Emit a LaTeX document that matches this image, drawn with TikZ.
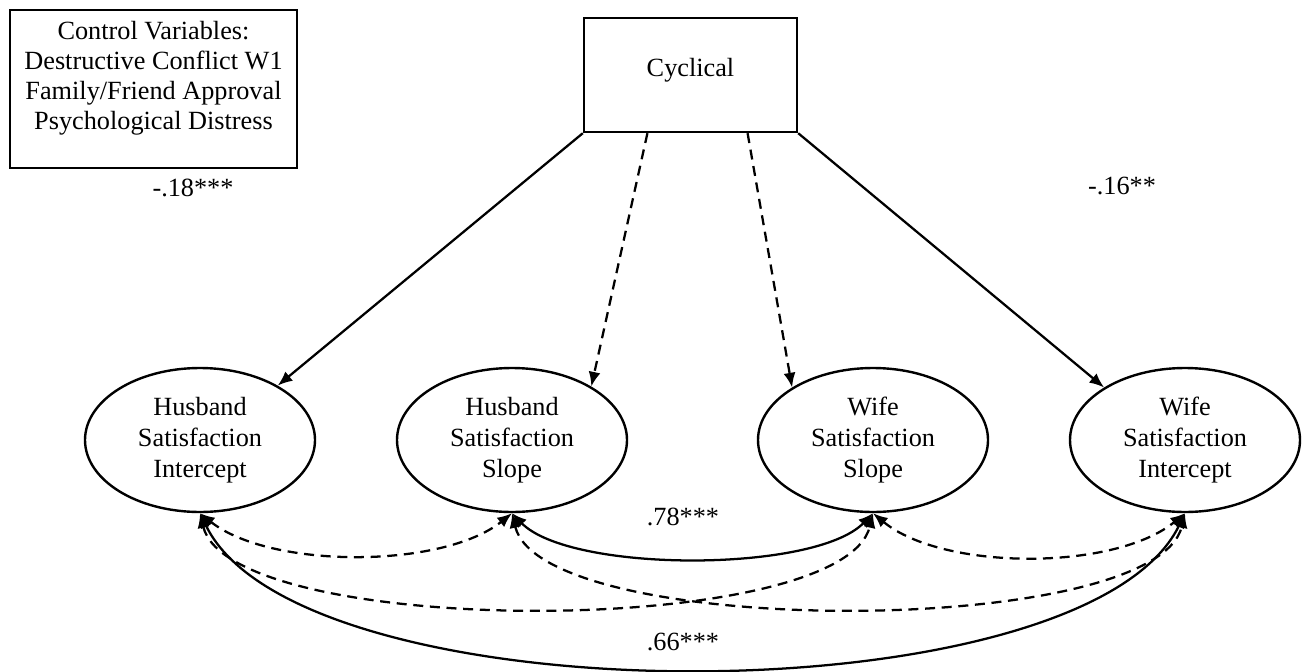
\documentclass[tikz,border=0pt]{standalone}
\usepackage{fontspec}
\setmainfont{Liberation Serif}
\usetikzlibrary{shapes.geometric,arrows.meta,calc}
\begin{document}
\begin{tikzpicture}[x=0.75pt,y=-0.75pt,
  txt/.style={font=\fontsize{19.7}{23.25}\selectfont},
  latent/.style={ellipse,draw,line width=1.8pt,minimum width=172.5pt,minimum height=108pt,inner sep=0pt,align=center,txt},
  obsbox/.style={draw,line width=1.8pt,minimum width=159.75pt,minimum height=85.5pt,txt},
  regpath/.style={line width=1.7pt,-{Latex[length=11pt,width=9pt]}},
  covpath/.style={line width=1.7pt,{Latex[length=11pt,width=9pt]}-{Latex[length=11pt,width=9pt]}},
  dsh/.style={dash pattern=on 7.5pt off 5pt}]
\useasboundingbox (0,0) rectangle (1306,671);

% control variables box
\draw[line width=1.8pt] (10,10) rectangle (297,168);
\node[txt,align=center,font=\fontsize{19.7}{22.5}\selectfont] (ctrl) at (153.5,78) {Control Variables:\\Destructive Conflict W1\\Family/Friend Approval\\Psychological Distress};

% predictor
\node[obsbox] (cyc) at (690.5,75) {};
\node[txt] (cyctext) at (690.5,70) {Cyclical};

% latent factors
\node[latent] (hsi) at (200,440) {Husband\\Satisfaction\\Intercept};
\node[latent] (hss) at (512,440) {Husband\\Satisfaction\\Slope};
\node[latent] (wss) at (873,440) {Wife\\Satisfaction\\Slope};
\node[latent] (wsi) at (1185,440) {Wife\\Satisfaction\\Intercept};

% regression paths
\coordinate (c1) at ($(cyc.south west)!0.3!(cyc.south east)$);
\coordinate (c2) at ($(cyc.south west)!0.765!(cyc.south east)$);
\draw[regpath] (cyc.south west) -- (hsi.35);
\draw[regpath,dsh] (c1) -- (hss.34);
\draw[regpath,dsh] (c2) -- (wss.147);
\draw[regpath] (cyc.south east) -- (wsi.147);

\node[txt] (l1) at (193,188) {-.18***};
\node[txt] (l2) at (1122,186) {-.16**};

% covariances
\draw[covpath] (hsi.south) .. controls (300,720) and (1085,720) .. (wsi.south);
\draw[covpath] (hss.south) .. controls (570,573) and (815,573) .. (wss.south);
\draw[covpath,dsh] (hsi.south) .. controls (270,569) and (442,569) .. (hss.south);
\draw[covpath,dsh] (wss.south) .. controls (943,571) and (1115,571) .. (wsi.south);
\draw[covpath,dsh] (hsi.south) .. controls (230,639) and (843,639) .. (wss.south);
\draw[covpath,dsh] (hss.south) .. controls (542,639) and (1155,639) .. (wsi.south);

\node[txt] (l3) at (683,517) {.78***};
\node[txt] (l4) at (683,642) {.66***};
\end{tikzpicture}
\end{document}
